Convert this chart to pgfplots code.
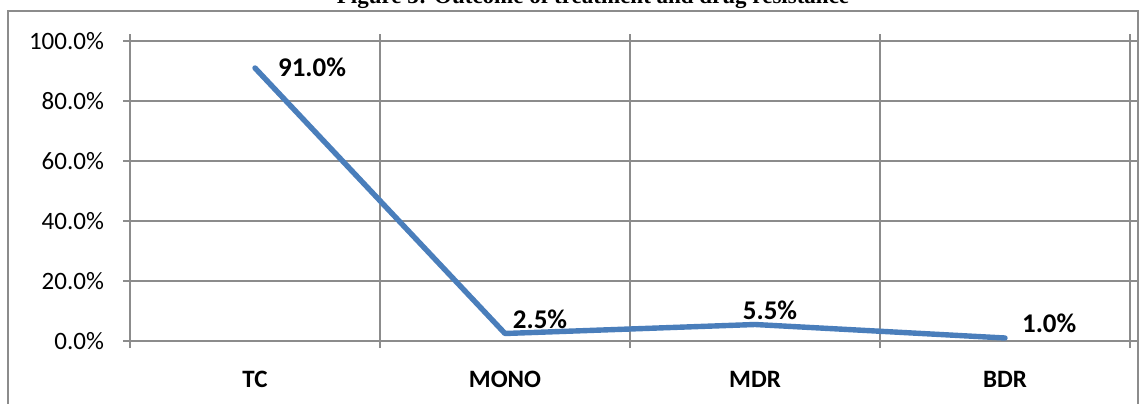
\documentclass[border=0pt]{standalone}
\usepackage{fontspec}
\setmainfont{Carlito}
\newfontfamily\titlefont{Liberation Serif}
\usepackage{pgfplots}
\pgfplotsset{compat=1.18}
\definecolor{linec}{HTML}{4A7EBB}
\definecolor{gridc}{HTML}{8C8C8C}
\begin{document}
\begin{tikzpicture}[x=1pt,y=1pt]
\useasboundingbox (0,0) rectangle (574,201.5);
\clip (0,0) rectangle (574,201.5);
\draw[gridc, line width=0.8pt, fill=white] (4,-10) rectangle (569,196);
\node[font=\titlefont\bfseries\fontsize{11.5}{13}\selectfont, anchor=base] at (296.5,200) {Figure 3: Outcome of treatment and drug resistance};
\begin{axis}[
  at={(65pt,31pt)}, anchor=south west,
  scale only axis, width=500pt, height=150pt,
  xmin=-0.5, xmax=3.5, ymin=0, ymax=100,
  xtick={0,1,2,3},
  xticklabels={TC,MONO,MDR,BDR},
  minor xtick={-0.5,0.5,1.5,2.5,3.5},
  major x tick style={draw=none},
  ytick={0,20,40,60,80,100},
  yticklabels={0.0\%,20.0\%,40.0\%,60.0\%,80.0\%,100.0\%},
  tick align=outside,
  major tick length=3.5pt, minor tick length=3.5pt,
  ymajorgrids, xminorgrids,
  grid style={gridc, line width=0.7pt},
  axis line style={gridc, line width=0.7pt},
  tick style={gridc, line width=0.7pt},
  minor tick style={gridc, line width=0.7pt},
  xticklabel style={font=\bfseries\fontsize{12.5}{14}\selectfont, yshift=-8pt},
  yticklabel style={font=\fontsize{12.5}{14}\selectfont, xshift=-6pt},
  clip=false,
]
\addplot[linec, line width=2.7pt, line join=round, line cap=round] coordinates {(0,91.0) (1,2.5) (2,5.5) (3,1.0)};
\addplot[draw=none, nodes near coords={91.0\%}, nodes near coords style={anchor=west, font=\bfseries\fontsize{13.5}{15}\selectfont, xshift=8pt, yshift=0.5pt}] coordinates {(0,91.0)};
\addplot[draw=none, nodes near coords={2.5\%}, nodes near coords style={anchor=south, font=\bfseries\fontsize{13.5}{15}\selectfont, xshift=17.5pt, yshift=-1pt}] coordinates {(1,2.5)};
\addplot[draw=none, nodes near coords={5.5\%}, nodes near coords style={anchor=south, font=\bfseries\fontsize{13.5}{15}\selectfont, xshift=7.5pt, yshift=-1pt}] coordinates {(2,5.5)};
\addplot[draw=none, nodes near coords={1.0\%}, nodes near coords style={anchor=south west, font=\bfseries\fontsize{13.5}{15}\selectfont, xshift=5pt, yshift=-1pt}] coordinates {(3,1.0)};
\end{axis}
\end{tikzpicture}
\end{document}
